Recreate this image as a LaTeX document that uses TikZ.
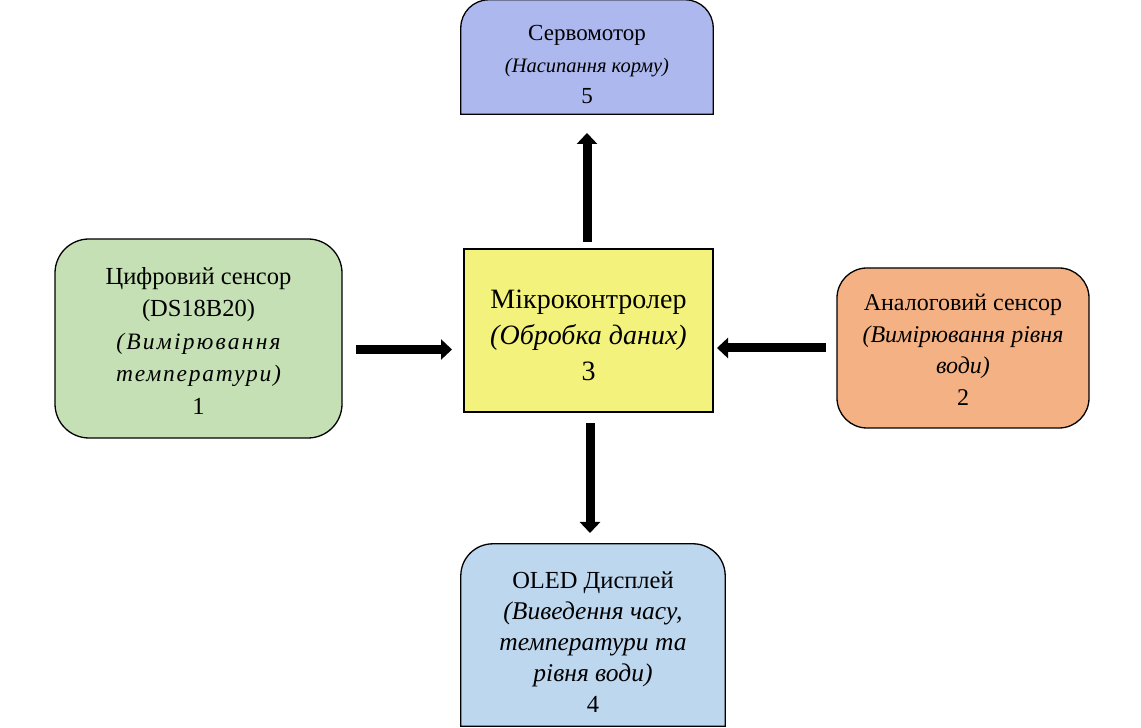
\documentclass[tikz,border=0pt]{standalone}
\usepackage{fontspec}
\setmainfont{Liberation Serif}
\usetikzlibrary{arrows.meta,backgrounds}
\definecolor{servoC}{HTML}{ADB9EE}
\definecolor{greenC}{HTML}{C5E0B4}
\definecolor{yellowC}{HTML}{F2F27C}
\definecolor{orangeC}{HTML}{F4B183}
\definecolor{blueC}{HTML}{BDD7EE}
\newcommand{\spaced}[2]{{\addfontfeatures{LetterSpace=#1}#2}}
\tikzset{
  boxline/.style={draw=black, line width=1.3pt},
  txt/.style={align=center, inner sep=0pt, text=black},
  conn/.style={line width=9pt, -{Triangle[width=20pt,length=11pt]}},
  area/.style={draw=none, fill=none, inner sep=0pt, minimum width=#1},
}
\begin{document}
\begin{tikzpicture}[x=1pt,y=1pt]
\useasboundingbox (0,0) rectangle (1141,728);
% boxes (y = 728 - pixel y)
\node[area=252pt, minimum height=114pt] (servo) at (587,671) {};
\node[area=287pt, minimum height=199pt, rounded corners=34pt, fill=greenC, boxline] (dig) at (198.5,389.5) {};
\node[area=249pt, minimum height=163pt, fill=yellowC, boxline] (mcu) at (588.5,397.5) {};
\node[area=252pt, minimum height=160pt, rounded corners=30pt, fill=orangeC, boxline] (ana) at (963,380) {};
\node[area=264pt, minimum height=182pt] (oled) at (593,93) {};
\begin{scope}[on background layer]
\draw[boxline, fill=servoC] (servo.south west) -- ([yshift=-28pt]servo.north west)
  arc[start angle=180, end angle=90, radius=28pt] -- ([xshift=-28pt]servo.north east)
  arc[start angle=90, end angle=0, radius=28pt] -- (servo.south east) -- cycle;
\draw[boxline, fill=blueC] (oled.south west) -- ([yshift=-32pt]oled.north west)
  arc[start angle=180, end angle=90, radius=32pt] -- ([xshift=-32pt]oled.north east)
  arc[start angle=90, end angle=0, radius=32pt] -- (oled.south east) -- cycle;
\end{scope}
% texts
\node[txt, font=\fontsize{23}{31.5}\selectfont] (servoT) at (587,663)
  {Сервомотор\\{\fontsize{20.5}{31.5}\selectfont\itshape (Насипання корму)}\\5};
\node[txt, font=\fontsize{24.5}{32.5}\selectfont] (digT) at (198.5,387)
  {Цифровий сенсор\\(DS18B20)\\{\fontsize{23.5}{32.5}\selectfont\itshape\spaced{9.5}{(Вимірювання}}\\{\fontsize{23.5}{32.5}\selectfont\itshape\spaced{7.5}{температури)}}\\1};
\node[txt, font=\fontsize{28}{36}\selectfont] (mcuT) at (588.5,393)
  {Мікроконтролер\\\textit{(Обробка даних)}\\3};
\node[txt, font=\fontsize{24}{31.5}\selectfont] (anaT) at (963,378)
  {Аналоговий сенсор\\\textit{(Вимірювання рівня}\\\textit{води)}\\2};
\node[txt, font=\fontsize{24.5}{31}\selectfont] (oledT) at (593,86)
  {OLED Дисплей\\{\fontsize{25.5}{31}\selectfont\itshape (Виведення часу,}\\{\fontsize{25.5}{31}\selectfont\itshape температури та}\\{\fontsize{25.5}{31}\selectfont\itshape рівня води)}\\4};
% connectors
\coordinate (a1) at (356,378.5);
\coordinate (a2) at (452,378.5);
\coordinate (b1) at (826,380);
\coordinate (b2) at (717,380);
\coordinate (c1) at (587,486);
\coordinate (c2) at (587,595);
\coordinate (d1) at (590,305);
\coordinate (d2) at (590,195);
\draw[conn] (a1) -- (a2);
\draw[conn] (b1) -- (b2);
\draw[conn] (c1) -- (c2);
\draw[conn] (d1) -- (d2);
\end{tikzpicture}
\end{document}
